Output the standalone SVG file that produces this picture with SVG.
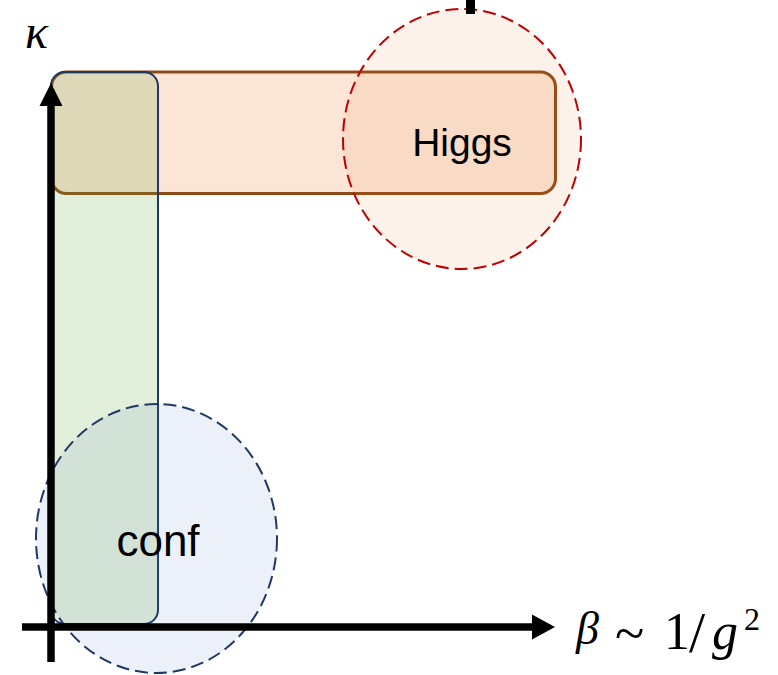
<svg xmlns="http://www.w3.org/2000/svg" width="778" height="675" viewBox="0 0 778 675">
<defs>
<style>
.lbl{font-family:"Liberation Sans",Arial,sans-serif;fill:#000;text-anchor:middle}
.math{font-family:"Liberation Serif","Times New Roman",serif;fill:#000}
.it{font-style:italic}
</style>
</defs>
<rect width="778" height="675" fill="#ffffff"/>
<g id="higgs-band">
<rect x="51.5" y="72" width="504" height="121.5" rx="15" ry="15" fill="#ED7D31" fill-opacity="0.2" stroke="#8F4A15" stroke-width="3"/>
</g>
<g id="conf-band">
<rect x="51" y="72" width="107" height="552" rx="14" ry="14" fill="#70AD47" fill-opacity="0.2" stroke="#1F3864" stroke-width="2"/>
</g>
<g id="higgs-region">
<ellipse cx="462" cy="139" rx="119" ry="130" fill="#ED7D31" fill-opacity="0.1" stroke="#C00000" stroke-width="2" stroke-dasharray="13 6"/>
<text class="lbl" x="462" y="156" font-size="39">Higgs</text>
</g>
<g id="conf-region">
<ellipse cx="156.5" cy="538.5" rx="120.5" ry="134.5" fill="#4472C4" fill-opacity="0.1" stroke="#1F3864" stroke-width="2" stroke-dasharray="13 6"/>
<text class="lbl" x="158" y="556" font-size="44">conf</text>
</g>
<g id="connectors">
<line x1="51" y1="662" x2="51" y2="104" stroke="#000" stroke-width="7.5"/>
<polygon points="51,83 39.5,106 62.5,106" fill="#000"/>
<line x1="22" y1="627" x2="534" y2="627" stroke="#000" stroke-width="7.5"/>
<polygon points="555,627 532,614.5 532,639.5" fill="#000"/>
<rect x="466" y="0" width="9" height="14" fill="#000"/>
</g>
<g id="axis-labels">
<text class="math it" x="25" y="47.5" font-size="48">κ</text>
<text class="math it" x="576" y="644" font-size="46">β</text>
<text class="math" x="615" y="652" font-size="54">~</text>
<text class="math" x="664" y="649" font-size="52">1</text>
<text class="math" x="689" y="652" font-size="58">/</text>
<text class="math it" x="712" y="649" font-size="52">g</text>
<text class="math" x="744" y="630" font-size="32">2</text>
</g>
</svg>
